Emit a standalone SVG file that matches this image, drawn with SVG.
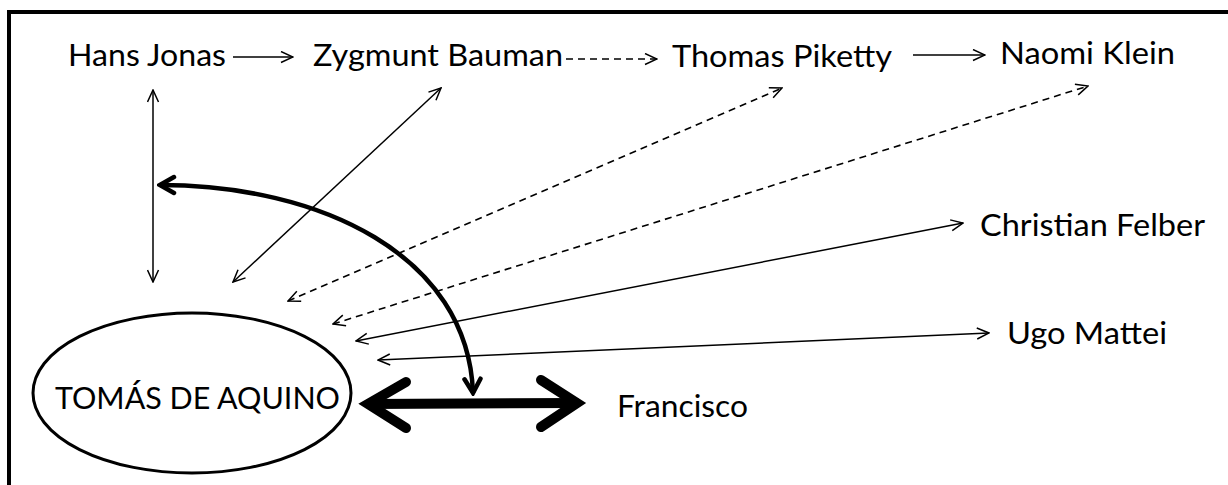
<svg xmlns="http://www.w3.org/2000/svg" width="1228" height="485" viewBox="0 0 1228 485">
  <style>
    .lbl { font-family: Lato, "Open Sans", "Liberation Sans", sans-serif; font-size: 30px; fill: #000; }
    .thin { fill: none; stroke: #000; stroke-width: 1.5; }
    .dash { fill: none; stroke: #000; stroke-width: 1.6; stroke-dasharray: 7 5; }
    .bold { fill: none; stroke: #000; stroke-width: 4.5; }
    .heavy { fill: none; stroke: #000; stroke-width: 10; stroke-linecap: round; stroke-linejoin: miter; }
  </style>
  <defs>
    <marker id="open" viewBox="0 0 14 13" refX="13" refY="6.5" markerWidth="14" markerHeight="13" markerUnits="userSpaceOnUse" orient="auto-start-reverse">
      <path d="M1,1 L13,6.5 L1,12" fill="none" stroke="#000" stroke-width="1.5" stroke-dasharray="none"/>
    </marker>
    <marker id="openBold" viewBox="0 0 20 22" refX="17" refY="11" markerWidth="20" markerHeight="22" markerUnits="userSpaceOnUse" orient="auto-start-reverse">
      <path d="M3,3 L17,11 L3,19" fill="none" stroke="#000" stroke-width="4.5" stroke-linecap="round"/>
    </marker>
  </defs>

  <!-- frame -->
  <rect x="9" y="12" width="1240" height="500" fill="#fff" stroke="#000" stroke-width="4"/>

  <g id="connectors">
    <!-- top row -->
    <line class="thin" x1="233" y1="57" x2="293" y2="57" marker-end="url(#open)"/>
    <line class="dash" x1="566" y1="59" x2="657" y2="59" marker-end="url(#open)"/>
    <line class="thin" x1="913" y1="55" x2="985" y2="55" marker-end="url(#open)"/>
    <!-- Hans Jonas vertical -->
    <line class="thin" x1="153" y1="90" x2="153" y2="282" marker-start="url(#open)" marker-end="url(#open)"/>
    <!-- fan towards Tomás -->
    <line class="thin" x1="233" y1="282" x2="441" y2="88" marker-start="url(#open)" marker-end="url(#open)"/>
    <line class="dash" x1="288" y1="301" x2="782" y2="88" marker-start="url(#open)" marker-end="url(#open)"/>
    <line class="dash" x1="333" y1="324" x2="1088" y2="86" marker-start="url(#open)" marker-end="url(#open)"/>
    <line class="thin" x1="356" y1="341" x2="963" y2="223" marker-start="url(#open)" marker-end="url(#open)"/>
    <line class="thin" x1="378" y1="360" x2="989" y2="333" marker-start="url(#open)" marker-end="url(#open)"/>
    <!-- bold curved arrow -->
    <path class="bold" d="M160,185 C320,185 468,255 473,393" marker-start="url(#openBold)" marker-end="url(#openBold)"/>
    <!-- heavy double arrow Tomás / Francisco -->
    <path class="heavy" d="M370,404 L576,403"/>
    <path class="heavy" d="M406,382 L368,404 L406,428"/>
    <path class="heavy" d="M541,380 L577,403 L541,427"/>
  </g>

  <g id="node-tomas">
    <ellipse cx="192" cy="393" rx="159" ry="80" fill="none" stroke="#000" stroke-width="3"/>
    <text class="lbl" x="55" y="409" textLength="285" lengthAdjust="spacingAndGlyphs">TOMÁS DE AQUINO</text>
  </g>
  <g id="node-hans-jonas">
    <text class="lbl" x="68" y="66" textLength="158" lengthAdjust="spacingAndGlyphs">Hans Jonas</text>
  </g>
  <g id="node-zygmunt-bauman">
    <text class="lbl" x="313" y="66" textLength="250" lengthAdjust="spacingAndGlyphs">Zygmunt Bauman</text>
  </g>
  <g id="node-thomas-piketty">
    <text class="lbl" x="672" y="67" textLength="220" lengthAdjust="spacingAndGlyphs">Thomas Piketty</text>
  </g>
  <g id="node-naomi-klein">
    <text class="lbl" x="1000" y="64" textLength="175" lengthAdjust="spacingAndGlyphs">Naomi Klein</text>
  </g>
  <g id="node-christian-felber">
    <text class="lbl" x="980" y="236" textLength="225" lengthAdjust="spacingAndGlyphs">Christian Felber</text>
  </g>
  <g id="node-ugo-mattei">
    <text class="lbl" x="1007" y="344" textLength="160" lengthAdjust="spacingAndGlyphs">Ugo Mattei</text>
  </g>
  <g id="node-francisco">
    <text class="lbl" x="617" y="417" textLength="131" lengthAdjust="spacingAndGlyphs">Francisco</text>
  </g>
</svg>
